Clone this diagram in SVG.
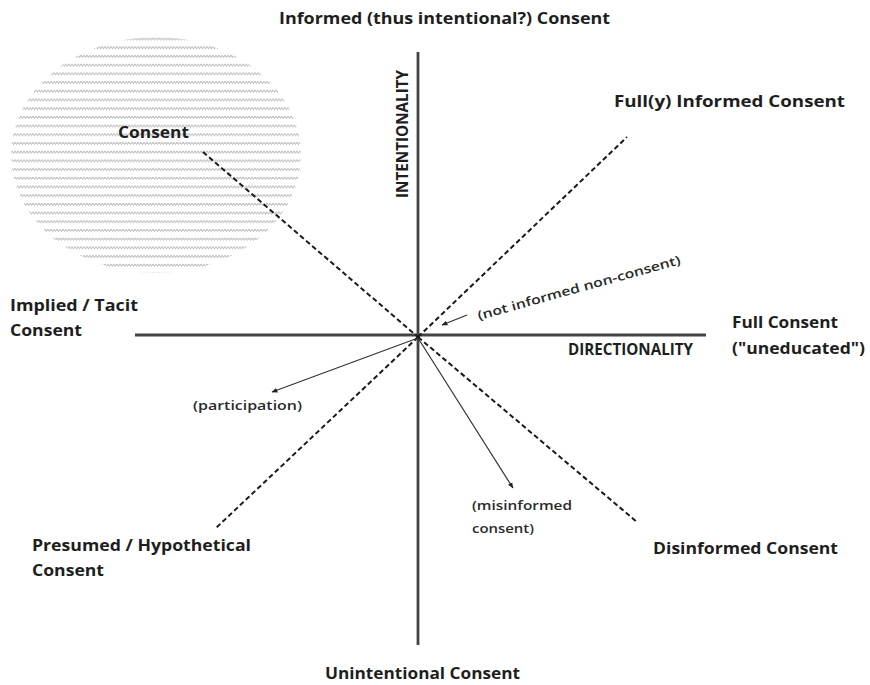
<svg xmlns="http://www.w3.org/2000/svg" width="870" height="685" viewBox="0 0 870 685">
<defs>
<pattern id="wave" width="6" height="8.7" patternUnits="userSpaceOnUse">
<path d="M0 3 L1.5 5.3 L3 3 L4.5 5.3 L6 3" fill="none" stroke="#a4a4a4" stroke-width="0.85"/>
</pattern>
<marker id="ah" viewBox="0 0 10 10" refX="9" refY="5" markerWidth="6" markerHeight="6" orient="auto" markerUnits="userSpaceOnUse">
<path d="M0 1 L10 5 L0 9 Z" fill="#222"/>
</marker>
<style>
.lbl{font-family:"Open Sans","Noto Sans","Liberation Sans",sans-serif;font-weight:bold;fill:#1e1e1e;font-size:16px}
.sm{font-family:"Open Sans","Noto Sans","Liberation Sans",sans-serif;font-weight:600;fill:#2a2a2a;font-size:12.5px}
.axis{stroke:#444;stroke-width:2.8;fill:none}
.dash{stroke:#1a1a1a;stroke-width:2;stroke-dasharray:5 3;fill:none}
.arr{stroke:#333;stroke-width:1.2;fill:none;marker-end:url(#ah)}
</style>
</defs>
<rect width="870" height="685" fill="#fff"/>
<g id="zone">
<ellipse cx="156" cy="155" rx="145" ry="118" fill="url(#wave)"/>
</g>
<g id="connectors">
<line class="axis" x1="418" y1="52" x2="418" y2="645"/>
<line class="axis" x1="135" y1="335" x2="706" y2="335"/>
<line class="dash" x1="418" y1="337" x2="627" y2="137"/>
<line class="dash" x1="203" y1="152" x2="418" y2="337"/>
<line class="dash" x1="418" y1="337" x2="216" y2="528"/>
<line class="dash" x1="418" y1="337" x2="637" y2="522"/>
<line class="arr" x1="418" y1="338" x2="272" y2="392"/>
<line class="arr" x1="418" y1="338" x2="513" y2="488"/>
<line class="arr" x1="467" y1="315" x2="442" y2="325" stroke-width="1"/>
</g>
<g id="n-top"><text class="lbl" x="279" y="24" textLength="331" lengthAdjust="spacingAndGlyphs">Informed (thus intentional?) Consent</text></g>
<g id="n-fully"><text class="lbl" x="614" y="107" textLength="231" lengthAdjust="spacingAndGlyphs">Full(y) Informed Consent</text></g>
<g id="n-consent"><text class="lbl" x="118" y="138" textLength="71" lengthAdjust="spacingAndGlyphs">Consent</text></g>
<g id="n-intent"><text class="lbl" transform="translate(408,198) rotate(-90)" x="0" y="0" font-size="12" textLength="128" lengthAdjust="spacingAndGlyphs">INTENTIONALITY</text></g>
<g id="n-implied"><text class="lbl" x="10" y="311" textLength="128" lengthAdjust="spacingAndGlyphs">Implied / Tacit</text><text class="lbl" x="10" y="336" textLength="72" lengthAdjust="spacingAndGlyphs">Consent</text></g>
<g id="n-direct"><text class="lbl" x="568" y="355" font-size="12" textLength="125" lengthAdjust="spacingAndGlyphs">DIRECTIONALITY</text></g>
<g id="n-full"><text class="lbl" x="732" y="328" textLength="106" lengthAdjust="spacingAndGlyphs">Full Consent</text><text class="lbl" x="732" y="354" textLength="133" lengthAdjust="spacingAndGlyphs">("uneducated")</text></g>
<g id="n-notinf"><text class="sm" transform="translate(479,320) rotate(-15.5)" x="0" y="0" textLength="210" lengthAdjust="spacingAndGlyphs">(not informed non-consent)</text></g>
<g id="n-partic"><text class="sm" x="193" y="410" textLength="109" lengthAdjust="spacingAndGlyphs">(participation)</text></g>
<g id="n-misinf"><text class="sm" x="472" y="510" textLength="100" lengthAdjust="spacingAndGlyphs">(misinformed</text><text class="sm" x="472" y="533" textLength="62" lengthAdjust="spacingAndGlyphs">consent)</text></g>
<g id="n-presumed"><text class="lbl" x="32" y="551" textLength="219" lengthAdjust="spacingAndGlyphs">Presumed / Hypothetical</text><text class="lbl" x="32" y="576" textLength="72" lengthAdjust="spacingAndGlyphs">Consent</text></g>
<g id="n-disinf"><text class="lbl" x="653" y="554" textLength="185" lengthAdjust="spacingAndGlyphs">Disinformed Consent</text></g>
<g id="n-unint"><text class="lbl" x="325" y="679" textLength="195" lengthAdjust="spacingAndGlyphs">Unintentional Consent</text></g>
</svg>
